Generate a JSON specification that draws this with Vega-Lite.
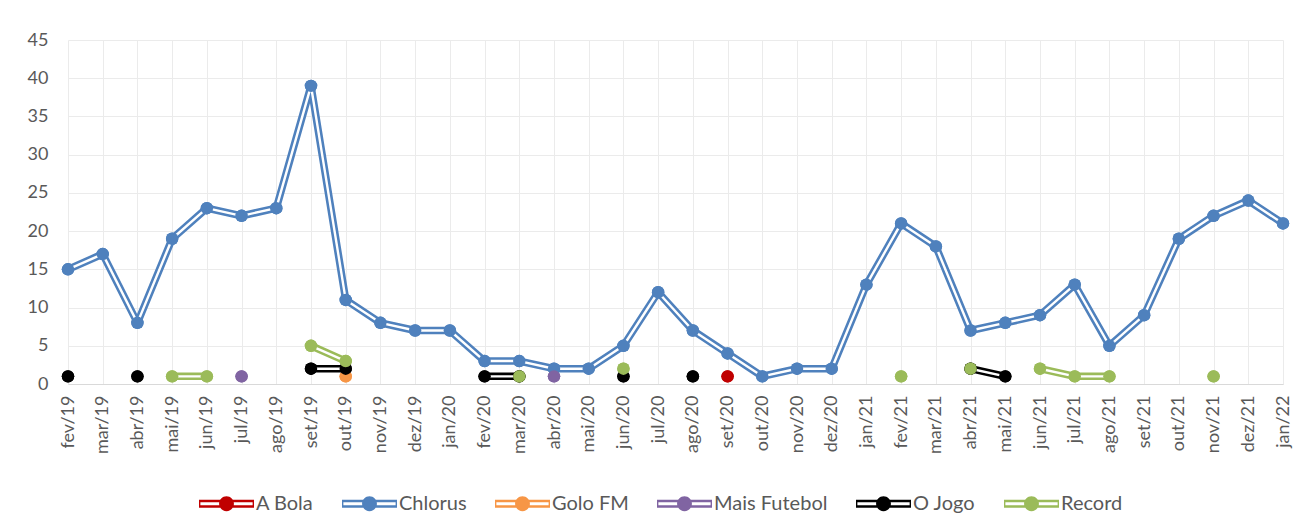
{
  "$schema": "https://vega.github.io/schema/vega-lite/v6.json",
  "width": 1215,
  "height": 344,
  "autosize": {"type": "none"},
  "padding": {"left": 68, "top": 40, "right": 17, "bottom": 148},
  "background": "white",
  "config": {
    "font": "Lato",
    "view": {"stroke": null},
    "legend": {
      "title": null, "orient": "none", "direction": "horizontal",
      "legendX": 131, "legendY": 436,
      "symbolType": "M-1,-0.145H1V-0.055H-1Z M-1,0.055H1V0.145H-1Z M-1,-0.145H-0.95V0.145H-1Z M0.95,-0.145H1V0.145H0.95Z M0.27,0A0.27,0.27 0 1 1 -0.27,0A0.27,0.27 0 1 1 0.27,0Z",
      "symbolSize": 3025, "symbolStrokeWidth": 0, "symbolOpacity": 1,
      "labelFontSize": 20, "labelColor": "#595959", "labelOffset": 2, "columnPadding": 28
    }
  },
  "data": {"values": [
    {"m": "fev/19", "Chlorus": 15, "O Jogo": 1},
    {"m": "mar/19", "Chlorus": 17},
    {"m": "abr/19", "Chlorus": 8, "O Jogo": 1},
    {"m": "mai/19", "Chlorus": 19, "Record": 1},
    {"m": "jun/19", "Chlorus": 23, "Record": 1},
    {"m": "jul/19", "Chlorus": 22, "Mais Futebol": 1},
    {"m": "ago/19", "Chlorus": 23},
    {"m": "set/19", "Chlorus": 39, "O Jogo": 2, "Record": 5},
    {"m": "out/19", "Chlorus": 11, "O Jogo": 2, "Record": 3, "Golo FM": 1},
    {"m": "nov/19", "Chlorus": 8},
    {"m": "dez/19", "Chlorus": 7},
    {"m": "jan/20", "Chlorus": 7},
    {"m": "fev/20", "Chlorus": 3, "O Jogo": 1},
    {"m": "mar/20", "Chlorus": 3, "O Jogo": 1, "Record": 1},
    {"m": "abr/20", "Chlorus": 2, "Mais Futebol": 1},
    {"m": "mai/20", "Chlorus": 2},
    {"m": "jun/20", "Chlorus": 5, "O Jogo": 1, "Record": 2},
    {"m": "jul/20", "Chlorus": 12},
    {"m": "ago/20", "Chlorus": 7, "O Jogo": 1},
    {"m": "set/20", "Chlorus": 4, "A Bola": 1},
    {"m": "out/20", "Chlorus": 1},
    {"m": "nov/20", "Chlorus": 2},
    {"m": "dez/20", "Chlorus": 2},
    {"m": "jan/21", "Chlorus": 13},
    {"m": "fev/21", "Chlorus": 21, "Record": 1},
    {"m": "mar/21", "Chlorus": 18},
    {"m": "abr/21", "Chlorus": 7, "O Jogo": 2, "Record": 2},
    {"m": "mai/21", "Chlorus": 8, "O Jogo": 1},
    {"m": "jun/21", "Chlorus": 9, "Record": 2},
    {"m": "jul/21", "Chlorus": 13, "Record": 1},
    {"m": "ago/21", "Chlorus": 5, "Record": 1},
    {"m": "set/21", "Chlorus": 9},
    {"m": "out/21", "Chlorus": 19},
    {"m": "nov/21", "Chlorus": 22, "Record": 1},
    {"m": "dez/21", "Chlorus": 24},
    {"m": "jan/22", "Chlorus": 21}
  ]},
  "transform": [
    {"fold": ["A Bola", "Chlorus", "Golo FM", "Mais Futebol", "O Jogo", "Record"], "as": ["s", "v"]}
  ],
  "encoding": {
    "x": {
      "field": "m", "type": "ordinal",
      "sort": ["fev/19","mar/19","abr/19","mai/19","jun/19","jul/19","ago/19","set/19","out/19","nov/19","dez/19","jan/20","fev/20","mar/20","abr/20","mai/20","jun/20","jul/20","ago/20","set/20","out/20","nov/20","dez/20","jan/21","fev/21","mar/21","abr/21","mai/21","jun/21","jul/21","ago/21","set/21","out/21","nov/21","dez/21","jan/22"],
      "scale": {"type": "point", "padding": 0},
      "axis": {"title": null, "grid": true, "gridColor": "#ebebeb", "gridWidth": 1, "domainColor": "#d9d9d9", "domainWidth": 1, "ticks": false, "labelAngle": -90, "labelPadding": 11, "labelFontSize": 18, "labelColor": "#595959"}
    },
    "y": {
      "field": "v", "type": "quantitative",
      "scale": {"domain": [0, 45], "nice": false},
      "axis": {"title": null, "values": [0,5,10,15,20,25,30,35,40,45], "grid": true, "gridColor": "#ebebeb", "domain": false, "ticks": false, "labelPadding": 20, "labelFontSize": 18, "labelColor": "#595959"}
    },
    "color": {"field": "s", "type": "nominal",
      "scale": {"domain": ["A Bola", "Chlorus", "Golo FM", "Mais Futebol", "O Jogo", "Record"], "range": ["#c00000", "#4f81bd", "#f79646", "#8064a2", "#000000", "#9bbb59"]}}
  },
  "layer": [
    {
      "mark": {"type": "point", "filled": true, "size": 155, "opacity": 1, "strokeWidth": 0}
    },
    {
      "mark": {"type": "line", "strokeWidth": 7.5, "strokeJoin": "round"}
    },
    {
      "mark": {"type": "line", "strokeWidth": 2.4, "color": "white", "strokeJoin": "round"},
      "encoding": {"color": null, "detail": {"field": "s", "type": "nominal"}}
    },
    {
      "mark": {"type": "point", "filled": true, "size": 155, "opacity": 1, "strokeWidth": 0}
    }
  ]
}
